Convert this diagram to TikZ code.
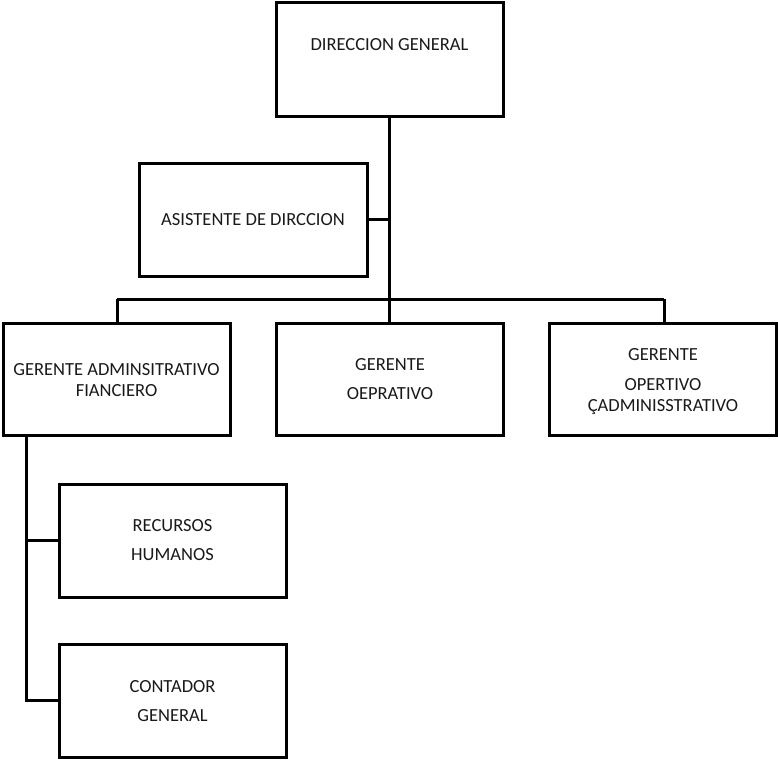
\documentclass[tikz,border=0pt]{standalone}
\usepackage{fontspec}
\setmainfont{Carlito}
\begin{document}
\begin{tikzpicture}[x=1pt,y=-1pt,
  unit/.style={draw=black, line width=3pt, inner sep=0pt,
    minimum width=227pt, minimum height=112pt},
  caption/.style={anchor=base, inner sep=0pt, text=black!90,
    font=\fontsize{18.5}{22}\selectfont},
  link/.style={line width=3pt, draw=black}]
\useasboundingbox (0,0) rectangle (778,760);

% boxes
\node[unit, minimum height=113pt] (dg) at (389.5,59.5) {};
\node[unit, minimum width=228pt, minimum height=113pt] (asis) at (253,219.5) {};
\node[unit] (g1) at (116.5,379) {};
\node[unit] (g2) at (390,379) {};
\node[unit] (g3) at (663,379) {};
\node[unit, minimum height=113pt] (rh) at (172.5,540.5) {};
\node[unit, minimum height=113pt] (cg) at (172.5,700.5) {};

% labels
\node[caption] (dg-t) at (389.5,51) {DIRECCION GENERAL};
\node[caption] (asis-t) at (253,225) {ASISTENTE DE DIRCCION};
\node[caption] (g1-t1) at (116.5,375) {GERENTE ADMINSITRATIVO};
\node[caption] (g1-t2) at (116.5,396) {FIANCIERO};
\node[caption] (g2-t1) at (390,370) {GERENTE};
\node[caption] (g2-t2) at (390,399) {OEPRATIVO};
\node[caption] (g3-t1) at (663,360) {GERENTE};
\node[caption] (g3-t2) at (663,390) {OPERTIVO};
\node[caption] (g3-t3) at (663,411) {ÇADMINISSTRATIVO};
\node[caption] (rh-t1) at (172.5,531) {RECURSOS};
\node[caption] (rh-t2) at (172.5,560) {HUMANOS};
\node[caption] (cg-t1) at (172.5,692) {CONTADOR};
\node[caption] (cg-t2) at (172.5,721) {GENERAL};

% connector junctions
\coordinate (busL) at (117,299);
\coordinate (busM) at (389,299);
\coordinate (busR) at (664,299);
\coordinate (colX) at (26,435);

% connectors
\draw[link] (dg.south -| busM) -- (busM);
\draw[link] (asis.east) -- (asis.east -| busM);
\draw[link] (busL) -- (busR);
\draw[link] (busL) -- (busL |- g1.north);
\draw[link] (busM) -- (busM |- g2.north);
\draw[link] (busR) -- (busR |- g3.north);
\draw[link] (colX) -- (colX |- cg.west) -- (cg.west);
\draw[link] (colX |- rh.west) -- (rh.west);
\end{tikzpicture}
\end{document}
